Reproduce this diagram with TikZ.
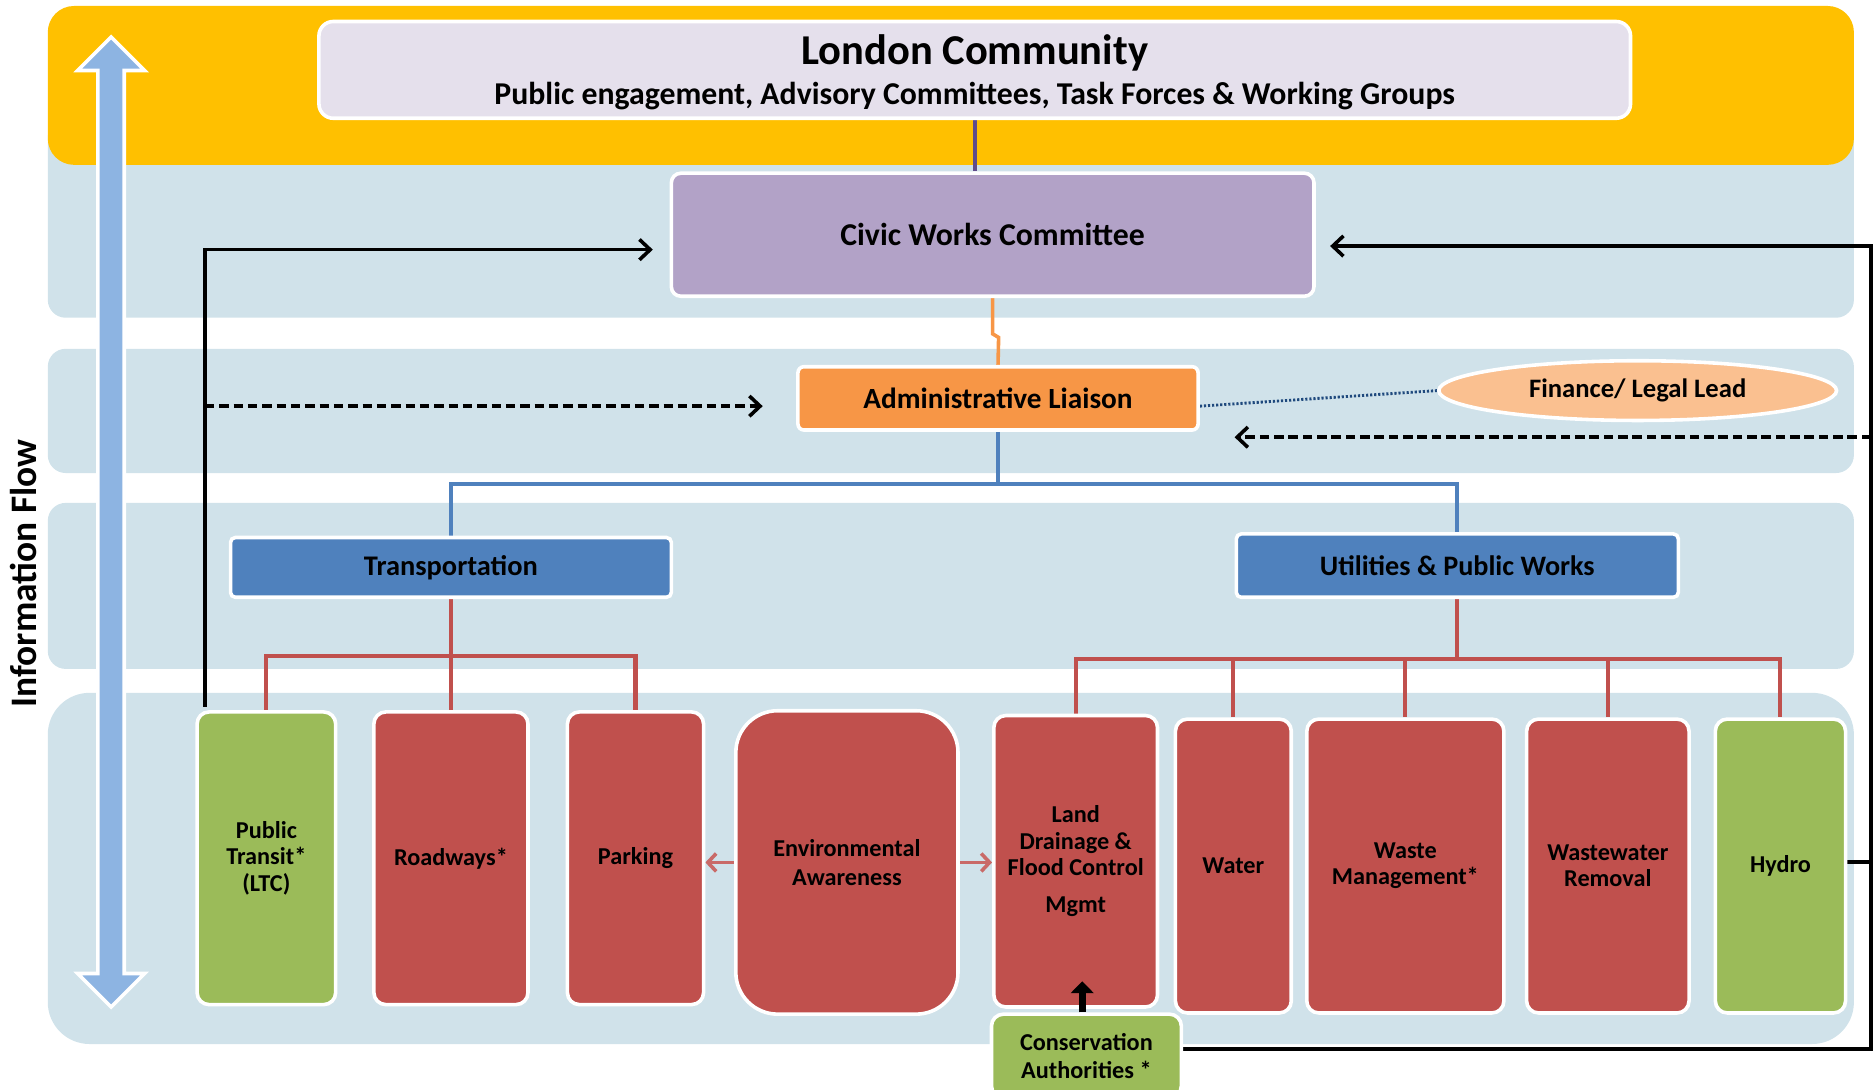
\documentclass[tikz,border=0pt]{standalone}
\usepackage{fontspec}
\setmainfont{Carlito}
\usetikzlibrary{arrows.meta,shapes.geometric}
\pgfdeclarelayer{bg}
\pgfdeclarelayer{lines}
\pgfsetlayers{bg,lines,main}
\definecolor{yel}{HTML}{FFC000}
\definecolor{band}{HTML}{D0E2EA}
\definecolor{lav}{HTML}{E5E0EC}
\definecolor{civ}{HTML}{B2A2C7}
\definecolor{org}{HTML}{F79646}
\definecolor{peach}{HTML}{FAC090}
\definecolor{blu}{HTML}{4F81BD}
\definecolor{rd}{HTML}{C0504D}
\definecolor{grn}{HTML}{9BBB59}
\definecolor{arrblue}{HTML}{8DB4E2}
\definecolor{purp}{HTML}{5F4B8B}
\definecolor{dblu}{HTML}{1F497D}
\begin{document}
\begin{tikzpicture}[x=1pt,y=-1pt,
  box/.style={draw=white, line width=3pt, rounded corners=#1, align=center, inner sep=0pt,
    font=\bfseries\fontsize{20.3}{22}\selectfont},
  box/.default=10pt,
  blk/.style={black, line width=3pt},
  blkarrow/.style={blk, -{Straight Barb[length=9pt,width=17pt]}},
  blkdash/.style={blkarrow, dash pattern=on 8pt off 4pt},
  bluline/.style={blu, line width=3.4pt},
  redline/.style={rd, line width=3.4pt},
  redarrow/.style={rd!85!white, line width=3pt, -{Straight Barb[length=7pt,width=15pt]}},
  thickarr/.style={black, line width=6pt, -{Triangle[length=10pt,width=19pt]}}
]
\useasboundingbox (0,0) rectangle (1568,912);

\begin{pgfonlayer}{bg}
  \fill[band, rounded corners=15pt] (40,100) rectangle (1552,266);
  \fill[band, rounded corners=15pt] (40,292) rectangle (1552,396);
  \fill[band, rounded corners=15pt] (40,421) rectangle (1552,560);
  \fill[band, rounded corners=35pt] (40,580) rectangle (1552,874);
  \fill[yel, rounded corners=22pt] (40,5) rectangle (1552,138);
\end{pgfonlayer}

% information flow double arrow
\draw[fill=arrblue, draw=white, line width=3pt, line join=miter]
  (93,31) -- (121,59) -- (104,59) -- (104,815) -- (121,815) -- (93,843)
  -- (65,815) -- (82,815) -- (82,59) -- (65,59) -- cycle;
\node[rotate=90, font=\bfseries\fontsize{31.3}{33}\selectfont, inner sep=0pt] (info) at (20,480) {Information Flow};

% nodes
\node[box=12pt, fill=lav, minimum width=1098pt, minimum height=81pt] (london) at (816,58.5) {};
\node[font=\bfseries\fontsize{35.6}{38}\selectfont, inner sep=0pt] (londont) at (816,44) {London Community};
\node[font=\bfseries\fontsize{26.6}{28}\selectfont, inner sep=0pt] (publict) at (816,80) {Public engagement, Advisory Committees, Task Forces \& Working Groups};

\node[box=8pt, fill=civ, minimum width=538pt, minimum height=103pt, font=\bfseries\fontsize{26.6}{28}\selectfont] (civic) at (831,196.5) {Civic Works Committee};
\node[box=5pt, fill=org, minimum width=335pt, minimum height=53pt, font=\bfseries\fontsize{24.5}{26}\selectfont] (admin) at (835.5,333.5) {Administrative Liaison};
\node[ellipse, draw=white, line width=3pt, fill=peach, minimum width=333pt, minimum height=50pt, inner sep=0pt, font=\bfseries\fontsize{22.3}{24}\selectfont] (finance) at (1371,327) {Finance/ Legal Lead};
\node[box=4pt, fill=blu, minimum width=369pt, minimum height=50pt, font=\bfseries\fontsize{23.8}{25}\selectfont] (transport) at (377.5,475) {Transportation};
\node[box=4pt, fill=blu, minimum width=370pt, minimum height=53pt, font=\bfseries\fontsize{23.6}{25}\selectfont] (utilities) at (1220,473.5) {Utilities \& Public Works};

\node[box, fill=grn, minimum width=116pt, minimum height=245pt] (transit) at (223,718.5) {Public\\Transit*\\(LTC)};
\node[box, fill=rd, minimum width=129pt, minimum height=245pt] (roadways) at (377.5,718.5) {Roadways*};
\node[box, fill=rd, minimum width=114pt, minimum height=245pt] (parking) at (532,718.5) {Parking};
\node[box=35pt, fill=rd, minimum width=186pt, minimum height=254pt, font=\bfseries\fontsize{20.3}{24}\selectfont] (env) at (709,722) {Environmental\\Awareness};
\node[box, fill=rd, minimum width=137pt, minimum height=244pt] (land) at (900.5,721) {Land\\Drainage \&\\Flood Control\\[9pt]Mgmt};
\node[box, fill=rd, minimum width=97pt, minimum height=246pt] (water) at (1032.5,725) {Water};
\node[box, fill=rd, minimum width=165pt, minimum height=246pt] (waste) at (1176.5,725) {Waste\\Management*};
\node[box, fill=rd, minimum width=136pt, minimum height=246pt] (wastewater) at (1346,725) {Wastewater\\Removal};
\node[box, fill=grn, minimum width=109pt, minimum height=246pt] (hydro) at (1490.5,725) {Hydro};
\node[box, fill=grn, minimum width=159pt, minimum height=70pt, font=\bfseries\fontsize{20.3}{23}\selectfont] (cons) at (909.5,884) {Conservation\\Authorities *};

% connectors
\begin{pgfonlayer}{lines}
  \draw[purp, line width=3pt] (london.south) -- (london.south |- civic.north);
  \draw[org, line width=3pt] (civic.south) -- ++(0,30) -- ++(5,3) -- (admin.north);
  \draw[bluline] (admin.south) -- ++(0,44) coordinate (busB);
  \draw[bluline] (transport.north) |- (busB) -| (utilities.north);
  \draw[redline] (transport.south) -- ++(0,48) coordinate (tb);
  \draw[redline] (transit.north) |- (tb) -| (parking.north);
  \draw[redline] (tb) -- (roadways.north);
  \draw[redline] (utilities.south) -- ++(0,50) coordinate (ub);
  \draw[redline] (land.north) |- (ub) -| (hydro.north);
  \draw[redline] (water.north) -- (water.north |- ub);
  \draw[redline] (waste.north) -- (waste.north |- ub);
  \draw[redline] (wastewater.north) -- (wastewater.north |- ub);
  \draw[dblu, line width=2.4pt, dash pattern=on 1.8pt off 1.6pt] ([yshift=-6.5pt]admin.east) -- (finance.west);
  % left loop
  \coordinate (lbot) at ([xshift=8pt, yshift=3pt]transit.north west);
  \coordinate (civL) at ([xshift=-14pt, yshift=-12.5pt]civic.west);
  \coordinate (adminL) at ([xshift=-28pt, yshift=-6.5pt]admin.west);
  \draw[blkarrow] (lbot) |- (civL);
  \draw[blkdash] (lbot |- adminL) -- (adminL);
  % right loop
  \coordinate (civR) at ([xshift=12pt, yshift=-9.5pt]civic.east);
  \coordinate (adminR) at ([xshift=29pt, yshift=-32.5pt]admin.east);
  \coordinate (hydroE) at ([yshift=3.4pt, xshift=-2pt]hydro.east);
  \draw[blkarrow] ([yshift=6pt]cons.east) -- ++(576,0) coordinate (rc) |- (civR);
  \draw[blk] (hydroE) -- (rc |- hydroE);
  \draw[blkdash] (rc |- adminR) -- (adminR);
  \draw[redarrow] (env.west) -- (env.west -| parking.east);
  \draw[redarrow] (env.east) -- (env.east -| land.west);
\end{pgfonlayer}

\coordinate (consT) at ([xshift=-3.5pt]cons.north);
\coordinate (landin) at ([yshift=23pt]land.south);
\draw[thickarr] (consT) -- (consT |- landin);
\end{tikzpicture}
\end{document}
